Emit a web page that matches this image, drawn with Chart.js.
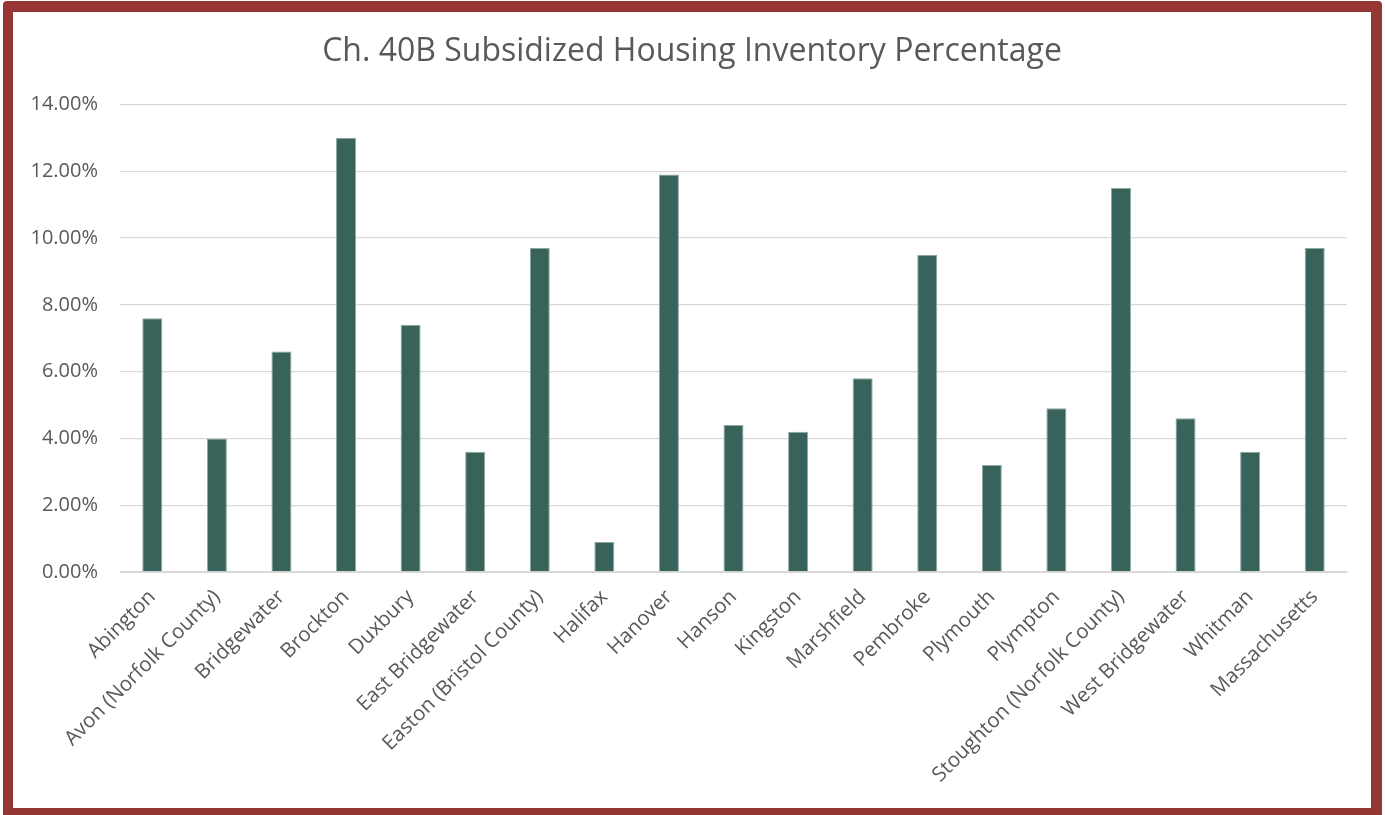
<!DOCTYPE html>
<html>
<head>
<meta charset="utf-8">
<script src="https://cdn.jsdelivr.net/npm/chart.js@4/dist/chart.umd.min.js"></script>
<style>
  html, body { margin: 0; padding: 0; background: #ffffff; overflow: hidden; }
  body { width: 1385px; height: 815px; position: relative; }
  .frame {
    position: absolute;
    left: 3px;
    top: 1px;
    width: 1379px;
    height: 818px;
    box-sizing: border-box;
    border-style: solid;
    border-color: #963634;
    border-width: 11px 11px 11px 10px;
    border-radius: 4px;
    background: #ffffff;
  }
  #chart { position: absolute; left: 0; top: 0; }
</style>
</head>
<body>
<div class="frame">
  <canvas id="chart" width="1358" height="796"></canvas>
</div>
<script>
// Towns and the statewide figure
const towns = [
  'Abington', 'Avon (Norfolk County)', 'Bridgewater', 'Brockton', 'Duxbury',
  'East Bridgewater', 'Easton (Bristol County)', 'Halifax', 'Hanover', 'Hanson',
  'Kingston', 'Marshfield', 'Pembroke', 'Plymouth', 'Plympton',
  'Stoughton (Norfolk County)', 'West Bridgewater', 'Whitman', 'Massachusetts'
];

// Subsidized Housing Inventory share, in percent
const shiPercent = [
  7.6, 4.0, 6.6, 13.0, 7.4,
  3.6, 9.7, 0.9, 11.9, 4.4,
  4.2, 5.8, 9.5, 3.2, 4.9,
  11.5, 4.6, 3.6, 9.7
];

// Value-axis ticks, in percent
const yTicks = [0, 2, 4, 6, 8, 10, 12, 14];

const chartTitle = 'Ch. 40B Subsidized Housing Inventory Percentage';

const FONT = '"Open Sans", "DejaVu Sans", sans-serif';
const TEXT = '#595959';
const GRID = '#d9d9d9';

new Chart(document.getElementById('chart'), {
  type: 'bar',
  data: {
    labels: towns,
    datasets: [{
      label: 'SHI %',
      data: shiPercent,
      backgroundColor: '#37635a',
      borderColor: '#8fa9a2',
      borderWidth: 1,
      categoryPercentage: 1,
      barPercentage: 0.31
    }]
  },
  options: {
    responsive: false,
    animation: false,
    devicePixelRatio: 1,
    layout: { padding: 0 },
    plugins: {
      legend: { display: false },
      tooltip: { enabled: false },
      title: {
        display: true,
        text: chartTitle,
        color: TEXT,
        font: { family: FONT, size: 32, weight: 'normal' },
        padding: { top: 21, bottom: 33 }
      }
    },
    scales: {
      x: {
        grid: { display: false, drawTicks: false },
        border: { display: true, color: GRID, width: 1 },
        ticks: {
          color: TEXT,
          font: { family: FONT, size: 20.5 },
          minRotation: 45,
          maxRotation: 45,
          autoSkip: false,
          padding: 13
        },
        afterFit: (s) => { s.height = 236; }
      },
      y: {
        min: 0,
        max: 14,
        grid: { color: GRID, lineWidth: 1.3, drawTicks: false },
        border: { display: false },
        afterBuildTicks: (s) => { s.ticks = yTicks.map(v => ({ value: v })); },
        ticks: {
          color: TEXT,
          font: { family: FONT, size: 20 },
          padding: 22,
          callback: (v) => Number(v).toFixed(2) + '%'
        },
        afterFit: (s) => { s.width = 107; }
      },
      // empty right-hand margin beside the plot
      yRight: {
        position: 'right',
        min: 0,
        max: 14,
        grid: { display: false, drawTicks: false },
        border: { display: false },
        ticks: { display: false },
        afterFit: (s) => { s.width = 24; }
      }
    }
  }
});
</script>
</body>
</html>
